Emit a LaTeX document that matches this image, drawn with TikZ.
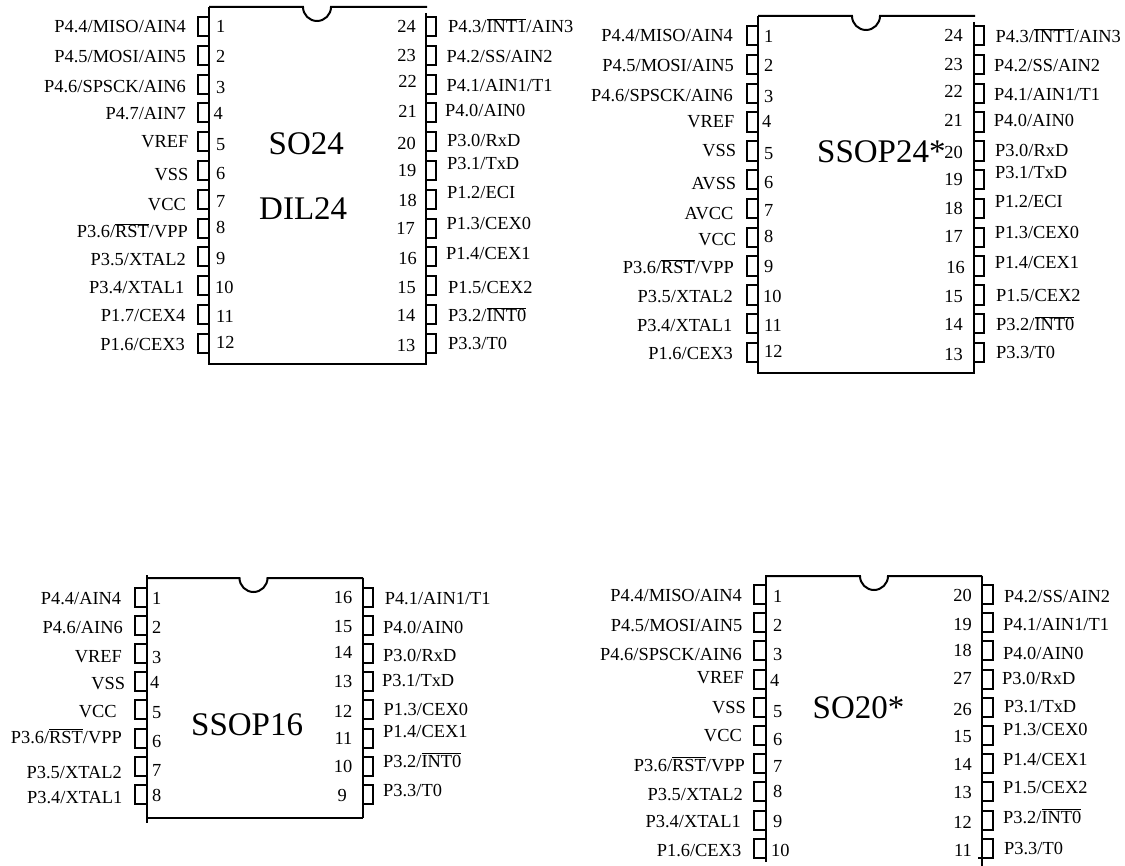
\documentclass[tikz,border=0pt]{standalone}
\usepackage{fontspec}
\setmainfont{Liberation Serif}
\newcommand{\ovl}[1]{$\overline{\mbox{#1}}$}
\tikzset{
  body/.style={line width=2pt},
  pinbox/.style={line width=2pt},
  pintext/.style={inner sep=0pt, font=\fontsize{18.4}{20}\selectfont},
  nameleft/.style={pintext, anchor=base east},
  nameright/.style={pintext, anchor=base west},
  numleft/.style={pintext, anchor=base west},
  numright/.style={pintext, anchor=base east},
  title/.style={inner sep=0pt, anchor=base west, font=\fontsize{33}{36}\selectfont}
}
\begin{document}
\begin{tikzpicture}[x=1pt, y=-1pt]
\useasboundingbox (0,0) rectangle (1125,866);

% SO24 / DIL24
\draw[body](209,7)--(303,7) arc (180:0:14)--(427,7);
\draw[body](209,7)--(209,364)--(427,364);
\draw[body](426,13)--(426,364);
\foreach \k in {0,...,11}
{
    \draw[pinbox](209,{17+28.8*\k})-|(198,{36+28.8*\k})--(209,{36+28.8*\k});
    \draw[pinbox](426,{17+28.8*\k})-|(436,{36+28.8*\k})--(426,{36+28.8*\k});
}
\node[title](soa) at (268.5,155){SO24};
\node[title](dil) at (259,220){DIL24};
\foreach \n/\nx/\ny/\tx/\ty/\t in {
    1/216/33/186/33/{P4.4/MISO/AIN4}, 2/216/63/186/63/{P4.5/MOSI/AIN5},
    3/216/94/186/93/{P4.6/SPSCK/AIN6}, 4/213.5/120/186/120/{P4.7/AIN7},
    5/216/151/188.5/148/{VREF}, 6/216/180/188.5/181/{VSS},
    7/216/208/186/211/{VCC}, 8/216/234/188/238/{P3.6/\ovl{RST}/VPP},
    9/216/265/186/266/{P3.5/XTAL2}, 10/215/294/184.5/294/{P3.4/XTAL1},
    11/216/323/185.5/322/{P1.7/CEX4}, 12/216/349/185/351/{P1.6/CEX3}}
{
    \node[numleft](an\n) at (\nx,\ny){\n};
    \node[nameleft](at\n) at (\tx,\ty){\t};
}
\foreach \n/\nx/\ny/\tx/\ty/\t in {
    24/416/33/448/33/{P4.3/\ovl{INT1}/AIN3}, 23/416/62/446.5/63/{P4.2/SS/AIN2},
    22/417/88/446.5/92/{P4.1/AIN1/T1}, 21/417/118/445/117/{P4.0/AIN0},
    20/416/150/447/147/{P3.0/RxD}, 19/416.5/177/447/170/{P3.1/TxD},
    18/417/207/447/199/{P1.2/ECI}, 17/415/235/446.5/230/{P1.3/CEX0},
    16/417/265/446/260/{P1.4/CEX1}, 15/416/294/448/294/{P1.5/CEX2},
    14/415.5/322/448/322/{P3.2/\ovl{INT0}}, 13/415.5/352/448/350/{P3.3/T0}}
{
    \node[numright](an\n) at (\nx,\ny){\n};
    \node[nameright](at\n) at (\tx,\ty){\t};
}

% SSOP24*
\draw[body](758,16)--(852,16) arc (180:0:14)--(975,16);
\draw[body](758,16)--(758,373)--(975,373);
\draw[body](974,22)--(974,373);
\foreach \k in {0,...,11}
{
    \draw[pinbox](758,{26+28.8*\k})-|(747,{45.5+28.8*\k})--(758,{45.5+28.8*\k});
    \draw[pinbox](974,{26+28.8*\k})-|(984,{45.5+28.8*\k})--(974,{45.5+28.8*\k});
}
\node[title](ssa) at (817,163){SSOP24*};
\foreach \n/\nx/\ny/\tx/\ty/\t in {
    1/764/43/733/42/{P4.4/MISO/AIN4}, 2/764/72/734/72/{P4.5/MOSI/AIN5},
    3/764/103/733/102/{P4.6/SPSCK/AIN6}, 4/762/128/734.6/128/{VREF},
    5/764/160/736.4/157/{VSS}, 6/764/189/736.4/190/{AVSS},
    7/764/217/733.6/220/{AVCC}, 8/764/243/736.4/246/{VCC},
    9/764/273/734/274/{P3.6/\ovl{RST}/VPP}, 10/763/303/733/303/{P3.5/XTAL2},
    11/764/332/732.5/332/{P3.4/XTAL1}, 12/764/358/733/360/{P1.6/CEX3}}
{
    \node[numleft](bn\n) at (\nx,\ny){\n};
    \node[nameleft](bt\n) at (\tx,\ty){\t};
}
\foreach \n/\nx/\ny/\tx/\ty/\t in {
    24/963/42/995.4/43/{P4.3/\ovl{INT1}/AIN3}, 23/963/71/994/72/{P4.2/SS/AIN2},
    22/963/98/994/101/{P4.1/AIN1/T1}, 21/963/127/993.6/127/{P4.0/AIN0},
    20/963/159/995/157/{P3.0/RxD}, 19/963/186/995/179/{P3.1/TxD},
    18/963/215/994.6/208/{P1.2/ECI}, 17/963/243/994.6/239/{P1.3/CEX0},
    16/965/274/994.6/269/{P1.4/CEX1}, 15/963/303/996/302/{P1.5/CEX2},
    14/963/331/996/331/{P3.2/\ovl{INT0}}, 13/963/361/996/359/{P3.3/T0}}
{
    \node[numright](bn\n) at (\nx,\ny){\n};
    \node[nameright](bt\n) at (\tx,\ty){\t};
}

% SSOP16
\draw[body](146.5,578)--(239.5,578) arc (180:0:14)--(363,578);
\draw[body](146.5,575)--(146.5,823);
\draw[body](146.5,818)--(363,818);
\draw[body](363,578)--(363,818);
\foreach \k in {0,...,7}
{
    \draw[pinbox](146.5,{587.5+28.2*\k})-|(135,{606.5+28.2*\k})--(146.5,{606.5+28.2*\k});
    \draw[pinbox](363,{587.5+28.2*\k})-|(372.5,{606.5+28.2*\k})--(363,{606.5+28.2*\k});
}
\node[title](ssb) at (191,735){SSOP16};
\foreach \n/\nx/\ny/\tx/\ty/\t in {
    1/152/604/121.4/604/{P4.4/AIN4}, 2/152/633/123/633/{P4.6/AIN6},
    3/152/663/122/662/{VREF}, 4/150/688/125.4/689/{VSS},
    5/152/718/116.8/717/{VCC}, 6/152/747/122/743/{P3.6/\ovl{RST}/VPP},
    7/152/776/122/778/{P3.5/XTAL2}, 8/152/801/122.5/803/{P3.4/XTAL1}}
{
    \node[numleft](cn\n) at (\nx,\ny){\n};
    \node[nameleft](ct\n) at (\tx,\ty){\t};
}
\foreach \n/\nx/\ny/\tx/\ty/\t in {
    16/352.5/603/384.6/604/{P4.1/AIN1/T1}, 15/352.5/632/383/633/{P4.0/AIN0},
    14/352.5/658/383/661/{P3.0/RxD}, 13/352.5/687/382/686/{P3.1/TxD},
    12/352.5/717/383.5/715/{P1.3/CEX0}, 11/352.5/744/383/737/{P1.4/CEX1},
    10/352.5/772/383/767/{P3.2/\ovl{INT0}}, 9/347/801/383/796/{P3.3/T0}}
{
    \node[numright](cn\n) at (\nx,\ny){\n};
    \node[nameright](ct\n) at (\tx,\ty){\t};
}

% SO20*
\draw[body](765,576)--(860,576) arc (180:0:14)--(982,576);
\draw[body](766,576)--(766,862);
\draw[body](982,576)--(982,866);
\draw[pinbox](978,858)--(982,858);
\foreach \k in {0,...,9}
{
    \draw[pinbox](766,{585+28.2*\k})-|(754,{604+28.2*\k})--(766,{604+28.2*\k});
    \draw[pinbox](982,{585+28.2*\k})-|(992.5,{604+28.2*\k})--(982,{604+28.2*\k});
}
\node[title](sob) at (812.5,718){SO20*};
\foreach \n/\nx/\ny/\tx/\ty/\t in {
    1/773/602/742/601/{P4.4/MISO/AIN4}, 2/773/631/742.5/631/{P4.5/MOSI/AIN5},
    3/773/660/742/660/{P4.6/SPSCK/AIN6}, 4/770/686/744/683/{VREF},
    5/773/717/746/713/{VSS}, 6/773/745/742/741/{VCC},
    7/773/772/745/771/{P3.6/\ovl{RST}/VPP}, 8/773/797/743/800/{P3.5/XTAL2},
    9/773/827/741/827/{P3.4/XTAL1}, 10/771/856/741.4/856/{P1.6/CEX3}}
{
    \node[numleft](dn\n) at (\nx,\ny){\n};
    \node[nameleft](dt\n) at (\tx,\ty){\t};
}
\foreach \n/\nx/\ny/\tx/\ty/\t in {
    20/972/601/1004/602/{P4.2/SS/AIN2}, 19/972/630/1003/630/{P4.1/AIN1/T1},
    18/972/656/1003/659/{P4.0/AIN0}, 27/972/684/1002/684/{P3.0/RxD},
    26/972/715/1004/712/{P3.1/TxD}, 15/972/742/1003/735/{P1.3/CEX0},
    14/972/770/1003/765/{P1.4/CEX1}, 13/972/798/1003/793/{P1.5/CEX2},
    12/972/828/1003/823/{P3.2/\ovl{INT0}}, 11/972/856/1004/854/{P3.3/T0}}
{
    \node[numright](dn\n) at (\nx,\ny){\n};
    \node[nameright](dt\n) at (\tx,\ty){\t};
}
\end{tikzpicture}
\end{document}
